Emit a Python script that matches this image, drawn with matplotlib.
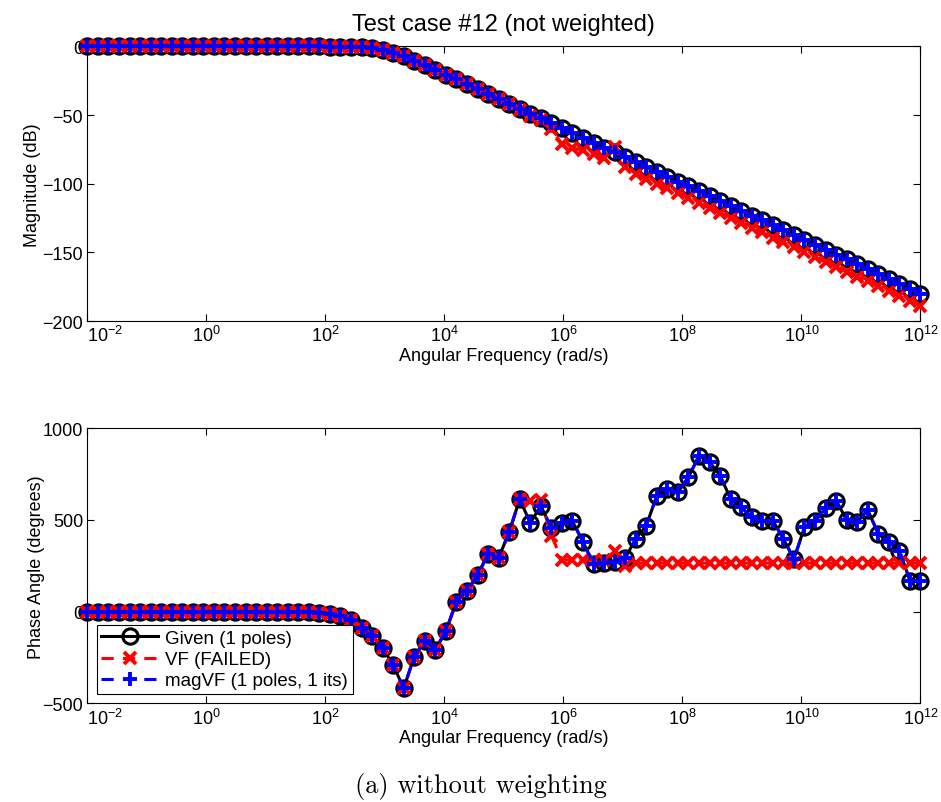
import numpy as np
import matplotlib
matplotlib.use("Agg")
import matplotlib.pyplot as plt
from matplotlib.ticker import FixedLocator, FixedFormatter, NullLocator

plt.rcParams['font.family'] = ['Liberation Sans', 'DejaVu Sans']
plt.rcParams['mathtext.fontset'] = 'custom'
plt.rcParams['mathtext.rm'] = 'Liberation Sans'
plt.rcParams['mathtext.it'] = 'Liberation Sans:italic'
plt.rcParams['mathtext.bf'] = 'Liberation Sans:bold'

# ---------------- data ----------------
n_points = 80
freq = np.logspace(-2, 12, n_points)   # rad/s, uniform log grid seen in the picture

mag_given = [
    0.0, 0.0, 0.0, 0.0, 0.0, 0.0, 0.0, 0.0, 0.0, 0.0,
    0.0, 0.0, 0.0, 0.0, 0.0, 0.0, 0.0, 0.0, 0.0, 0.0,
    0.0, 0.0, 0.0, -0.1, -0.1, -0.3, -0.7, -1.4, -2.7, -4.6,
    -7.2, -10.3, -13.6, -17.1, -20.5, -24.1, -27.6, -31.1, -34.7, -38.2,
    -41.8, -45.3, -48.9, -52.4, -55.9, -59.5, -63.0, -66.6, -70.1, -73.7,
    -77.2, -80.8, -84.3, -87.8, -91.4, -94.9, -98.5, -102.0, -105.6, -109.1,
    -112.7, -116.2, -119.7, -123.3, -126.8, -130.4, -133.9, -137.5, -141.0, -144.6,
    -148.1, -151.6, -155.2, -158.7, -162.3, -165.8, -169.4, -172.9, -176.5, -180.0,
]

mag_vf = [
    0.0, 0.0, 0.0, 0.0, 0.0, 0.0, 0.0, 0.0, 0.0, 0.0,
    0.0, 0.0, 0.0, 0.0, 0.0, 0.0, 0.0, 0.0, 0.0, 0.0,
    0.0, 0.0, 0.0, -0.1, -0.1, -0.3, -0.7, -1.4, -2.7, -4.6,
    -7.2, -10.3, -13.6, -17.1, -20.5, -24.1, -27.6, -31.1, -34.7, -38.2,
    -41.8, -46.3, -50.4, -53.4, -60.0, -71.1, -73.8, -75.8, -78.6, -81.0,
    -73.6, -88.1, -92.6, -96.3, -99.9, -103.4, -107.0, -110.6, -114.2, -117.7,
    -121.3, -124.9, -128.4, -132.0, -135.5, -139.2, -142.7, -146.3, -149.8, -153.4,
    -157.0, -160.5, -164.1, -167.6, -171.2, -174.8, -178.4, -181.9, -185.5, -189.0,
]

mag_magvf = list(mag_given)

phase_given = [
    0, 0, 0, 0, 0, 0, 0, 0, 0, 0,
    0, 0, 0, 0, 0, 0, 0, 0, 0, 0,
    0, -3, -7, -15, -25, -45, -87, -135, -198, -291,
    -418, -246, -158, -207, -106, 55, 115, 198, 315, 294,
    433, 615, 483, 578, 455, 483, 493, 380, 260, 263,
    273, 292, 397, 469, 633, 669, 651, 733, 851, 815,
    742, 615, 569, 515, 496, 496, 397, 287, 460, 492,
    565, 605, 501, 488, 555, 424, 379, 333, 169, 169,
]

phase_vf = [
    0, 0, 0, 0, 0, 0, 0, 0, 0, 0,
    0, 0, 0, 0, 0, 0, 0, 0, 0, 0,
    0, -3, -7, -15, -25, -45, -87, -135, -198, -291,
    -418, -246, -158, -207, -106, 55, 115, 198, 315, 294,
    433, 615, 605, 610, 415, 282, 282, 282, 282, 282,
    328, 250, 265, 265, 265, 265, 265, 265, 265, 265,
    265, 265, 265, 265, 265, 265, 265, 265, 265, 265,
    265, 265, 265, 265, 265, 265, 265, 265, 265, 265,
]

phase_magvf = list(phase_given)

labels = ['Given (1 poles)', 'VF (FAILED)', 'magVF (1 poles, 1 its)']
xtick_vals = [1e-2, 1e0, 1e2, 1e4, 1e6, 1e8, 1e10, 1e12]
xtick_text = [r'$10^{-2}$', r'$10^{0}$', r'$10^{2}$', r'$10^{4}$',
              r'$10^{6}$', r'$10^{8}$', r'$10^{10}$', r'$10^{12}$']

# ---------------- figure ----------------
fig = plt.figure(figsize=(9.41, 8.03), dpi=100)
ax1 = fig.add_axes([0.0928, 0.599, 0.8854, 0.342])
ax2 = fig.add_axes([0.0928, 0.1229, 0.8854, 0.3425])

dash = (0, (4, 3))
FS = 13

def draw(ax, y_given, y_vf, y_magvf):
    ax.plot(freq, y_given, color='black', lw=2.2, ls='-', marker='o', ms=11,
            mfc='none', mec='black', mew=2.2, label=labels[0], zorder=3)
    ax.plot(freq, y_vf, color='red', lw=2.2, ls=dash, marker='x', ms=8,
            mec='red', mew=2.8, label=labels[1], zorder=4)
    ax.plot(freq, y_magvf, color='blue', lw=2.2, ls=dash, marker='+', ms=10.5,
            mec='blue', mew=2.8, label=labels[2], zorder=5)
    ax.set_xscale('log')
    ax.set_xlim(1e-2, 1e12)
    ax.xaxis.set_major_locator(FixedLocator(xtick_vals))
    ax.xaxis.set_major_formatter(FixedFormatter(xtick_text))
    ax.xaxis.set_minor_locator(NullLocator())
    ax.tick_params(which='both', direction='in', top=True, right=True,
                   length=5, width=0.8, labelsize=FS, pad=3)
    for sp in ax.spines.values():
        sp.set_linewidth(0.8)
    ax.set_xlabel('Angular Frequency (rad/s)', fontsize=FS, labelpad=1)

draw(ax1, mag_given, mag_vf, mag_magvf)
ax1.set_ylim(-200, 0)
ax1.set_yticks([-200, -150, -100, -50, 0])
ax1.set_ylabel('Magnitude (dB)', fontsize=FS, labelpad=1)
ax1.set_title('Test case #12 (not weighted)', fontsize=17, pad=12)
for ln in ax1.lines:
    ln.set_clip_on(False)

draw(ax2, phase_given, phase_vf, phase_magvf)
ax2.set_ylim(-500, 1000)
ax2.set_yticks([-500, 0, 500, 1000])
ax2.set_ylabel('Phase Angle (degrees)', fontsize=FS, labelpad=-2)
for ln in ax2.lines:
    ln.set_clip_on(False)

# keep the first x tick label clear of the lowest y tick label
fig.canvas.draw()
for ax in (ax1, ax2):
    ax.get_xticklabels()[0].set_horizontalalignment('left')

leg = ax2.legend(loc='lower left', bbox_to_anchor=(0.0113, 0.0338),
                 borderaxespad=0, fontsize=13.5, numpoints=1,
                 handlelength=3.0, handletextpad=0.4, borderpad=0.25,
                 labelspacing=0.22, fancybox=False, framealpha=1,
                 edgecolor='black')
leg.get_frame().set_linewidth(0.8)
leg.set_zorder(10)

fig.text(0.511, 0.02, '(a) without weighting', family='cmr10',
         fontsize=19, ha='center', va='center')

fig.savefig('out.png', dpi=100)
